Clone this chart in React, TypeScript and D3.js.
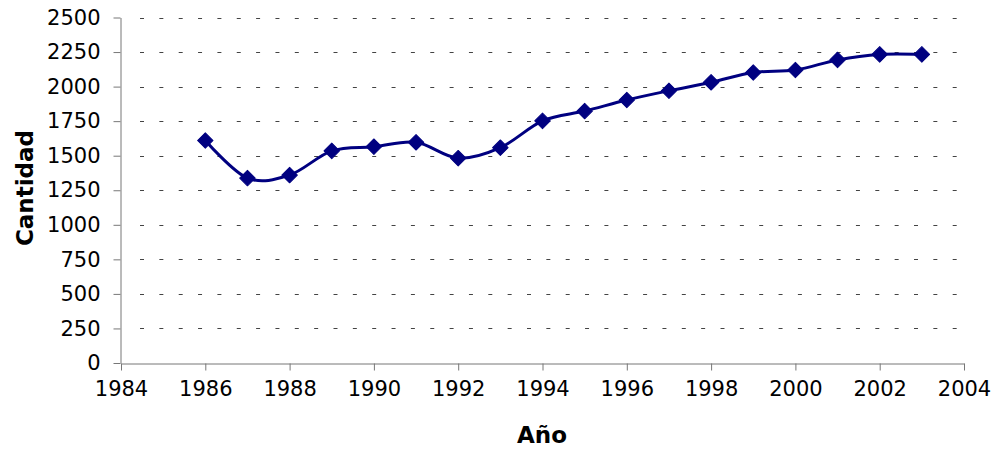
import React, { useEffect, useRef } from 'react';
import * as d3 from 'd3';

// Data
const years = [1986, 1987, 1988, 1989, 1990, 1991, 1992, 1993, 1994, 1995, 1996, 1997, 1998, 1999, 2000, 2001, 2002, 2003];
const cantidad = [1610, 1338, 1360, 1535, 1565, 1597, 1482, 1558, 1752, 1823, 1903, 1970, 2031, 2102, 2120, 2193, 2233, 2233];
const yTicks = [0, 250, 500, 750, 1000, 1250, 1500, 1750, 2000, 2250, 2500];
const xTicks = [1984, 1986, 1988, 1990, 1992, 1994, 1996, 1998, 2000, 2002, 2004];

const width = 996;
const height = 450;
const margin = { left: 121, right: 32, top: 17.5, bottom: 87 };
const lineColor = '#000080';
const font = 'Verdana, "DejaVu Sans", sans-serif';

const App = () => {
  const svgRef = useRef<SVGSVGElement>(null);

  useEffect(() => {
    const svg = d3.select(svgRef.current);
    svg.selectAll('*').remove();

    const x = d3.scaleLinear().domain([1984, 2004]).range([margin.left, width - margin.right]);
    const y = d3.scaleLinear().domain([0, 2500]).range([height - margin.bottom, margin.top]);

    // Dashed gridlines (skip 0)
    svg
      .append('g')
      .selectAll('line')
      .data(yTicks.filter((t) => t > 0))
      .enter()
      .append('line')
      .attr('x1', x(1984) + 19)
      .attr('x2', x(2004))
      .attr('y1', (d) => Math.round(y(d)) + 0.5)
      .attr('y2', (d) => Math.round(y(d)) + 0.5)
      .attr('stroke', '#444')
      .attr('stroke-width', 1)
      .attr('stroke-dasharray', '4 15.35');

    // Y axis
    const yAxis = svg
      .append('g')
      .attr('transform', `translate(${x(1984) - 0.5},0)`)
      .call(
        d3.axisLeft(y).tickValues(yTicks).tickFormat(d3.format('d')).tickSize(7).tickPadding(13).tickSizeOuter(0)
      );
    yAxis.select('.domain').attr('stroke', '#777');
    yAxis.selectAll('.tick line').attr('stroke', '#777');
    yAxis
      .selectAll('.tick text')
      .style('font-family', font)
      .style('font-size', '21px')
      .attr('fill', '#000');

    // X axis
    const xAxis = svg
      .append('g')
      .attr('transform', `translate(0,${Math.round(y(0)) + 0.5})`)
      .call(
        d3.axisBottom(x).tickValues(xTicks).tickFormat(d3.format('d')).tickSize(7).tickPadding(11).tickSizeOuter(0)
      );
    xAxis.select('.domain').attr('stroke', '#777');
    xAxis.selectAll('.tick line').attr('stroke', '#777');
    xAxis
      .selectAll('.tick text')
      .style('font-family', font)
      .style('font-size', '21px')
      .attr('fill', '#000');

    // Smoothed line
    const points = years.map((yr, i) => [yr, cantidad[i]] as [number, number]);
    const line = d3
      .line<[number, number]>()
      .x((d) => x(d[0]))
      .y((d) => y(d[1]))
      .curve(d3.curveCardinal.tension(0));

    svg
      .append('path')
      .datum(points)
      .attr('d', line)
      .attr('fill', 'none')
      .attr('stroke', lineColor)
      .attr('stroke-width', 3);

    // Diamond markers
    const diamond = d3.symbol().type(d3.symbolSquare).size(120);
    svg
      .append('g')
      .selectAll('path')
      .data(points)
      .enter()
      .append('path')
      .attr('d', diamond)
      .attr('transform', (d) => `translate(${x(d[0])},${y(d[1])}) rotate(45)`)
      .attr('fill', lineColor)
      .attr('stroke', lineColor)
      .attr('stroke-width', 1)
      .attr('stroke-linejoin', 'round');

    // Axis titles
    svg
      .append('text')
      .attr('x', 542)
      .attr('y', 443)
      .attr('text-anchor', 'middle')
      .style('font-family', font)
      .style('font-size', '23px')
      .style('font-weight', 'bold')
      .text('Año');

    svg
      .append('text')
      .attr('transform', 'translate(33,188) rotate(-90)')
      .attr('text-anchor', 'middle')
      .style('font-family', font)
      .style('font-size', '23px')
      .style('font-weight', 'bold')
      .text('Cantidad');
  }, []);

  return (
    <svg
      ref={svgRef}
      width={width}
      height={height}
      style={{ position: 'absolute', left: 0, top: 0, background: 'white' }}
    ></svg>
  );
};

export default App;
